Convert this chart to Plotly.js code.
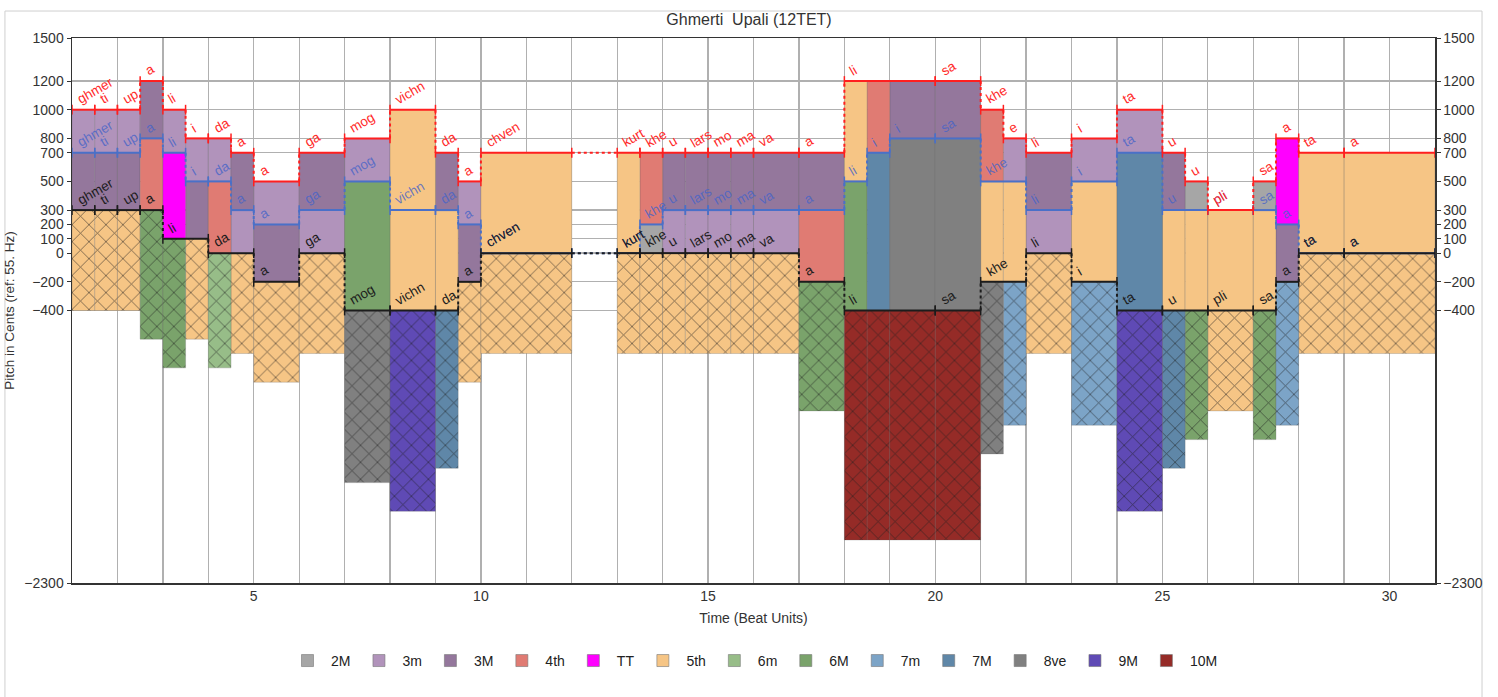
<!DOCTYPE html>
<html><head><meta charset="utf-8">
<script src="https://cdn.plot.ly/plotly-3.0.1.min.js"></script>
<style>html,body{margin:0;padding:0;background:#fff;} #chart{width:1498px;height:697px;}</style>
</head><body><div id="chart"></div>
<script>
// ---- data ----
const sliceStart = [1,1.5,2,2.5,3,3.5,4,4.5,5,6,7,8,9,9.5,10,13,13.5,14,14.5,15,15.5,16,17,18,18.5,19,20,21,21.5,22,23,24,25,25.5,26,27,27.5,28,29];
const sliceEnd   = [1.5,2,2.5,3,3.5,4,4.5,5,6,7,8,9,9.5,10,12,13.5,14,14.5,15,15.5,16,17,18,18.5,19,20,21,21.5,22,23,24,25,25.5,26,27,27.5,28,29,31];
const topPitch = [1000,1000,1000,1200,1000,800,800,700,500,700,800,1000,700,500,700,700,700,700,700,700,700,700,700,1200,1200,1200,1200,1000,800,700,800,1000,700,500,300,500,800,700,700];
const midPitch = [700,700,700,800,700,500,500,300,200,300,500,300,300,200,0,0,200,300,300,300,300,300,300,500,700,800,800,500,500,300,500,700,300,300,300,300,200,0,0];
const botPitch = [300,300,300,300,100,100,0,0,-200,0,-400,-400,-400,-200,0,0,0,0,0,0,0,0,-200,-400,-400,-400,-400,-200,-200,0,-200,-400,-400,-400,-400,-400,-200,0,0];
const topLyric = ["ghmer","ti","up","a","li","i","da","a","a","ga","mog","vichn","da","a","chven","kurt","khe","u","lars","mo","ma","va","a","li","","","sa","khe","e","li","i","ta","u","u","pli","sa","a","ta","a"];
const midLyric = ["ghmer","ti","up","a","li","i","da","a","a","ga","mog","vichn","da","a","chven","kurt","khe","u","lars","mo","ma","va","a","li","i","i","sa","khe","","li","i","ta","u","","pli","sa","a","ta","a"];
const botLyric = ["ghmer","ti","up","a","li","","da","","a","ga","mog","vichn","da","a","chven","kurt","khe","u","lars","mo","ma","va","a","li","","","sa","khe","","li","i","ta","u","","pli","sa","a","ta","a"];

const intervalNames = ["2M","3m","3M","4th","TT","5th","6m","6M","7m","7M","8ve","9M","10M"];
const intervalCents = [200,300,400,500,600,700,800,900,1000,1100,1200,1400,1600];
const intervalColors = ["#a6a6a6","#b193bb","#94779c","#e07b73","#ff00ff","#f6c585","#97bd88","#7aa36b","#7ca4c7","#5f87a8","#808080","#5f4ab5","#952b27"];

const yTickVals = [1500,1200,1000,800,700,500,300,200,100,0,-200,-400,-2300];
const xTickVals = Array.from({length:31},(_,i)=>i+1);
const xTickText = xTickVals.map(v => v%5===0 ? String(v) : "");

const FONT = "Liberation Sans, Arial, Helvetica, sans-serif";

// ---- bars ----
function emptyGroup(){ return {x:[],y:[],base:[],width:[]}; }
const solid = intervalNames.map(emptyGroup);
const hatch = intervalNames.map(emptyGroup);
function addBar(g, s, e, lo, hi){
  g.x.push((s+e)/2); g.width.push(e-s); g.base.push(lo); g.y.push(hi-lo);
}
for(let i=0;i<sliceStart.length;i++){
  const s=sliceStart[i], e=sliceEnd[i], t=topPitch[i], m=midPitch[i], b=botPitch[i];
  const k1 = intervalCents.indexOf(t-m);
  if(k1>=0) addBar(solid[k1], s, e, m, t);
  const k2 = intervalCents.indexOf(m-b);
  if(k2>=0) addBar(solid[k2], s, e, b, m);
  const k3 = intervalCents.indexOf(t-b);
  if(k3>=0) addBar(hatch[k3], s, e, b-(t-b), b);
}
const traces = [];
const barLine = {color:"rgba(90,90,90,0.35)", width:0.7};
// legend entries (one per interval class)
intervalNames.forEach((nm,k)=>{
  traces.push({type:"bar", name:nm, legendgroup:nm, showlegend:true, hoverinfo:"skip", x:[null], y:[null],
    marker:{color:intervalColors[k], line:{color:"rgba(120,120,120,0.6)", width:1}}});
});
intervalNames.forEach((nm,k)=>{
  if(solid[k].x.length) traces.push(Object.assign({type:"bar", name:nm, legendgroup:nm, showlegend:false, hoverinfo:"skip",
    marker:{color:intervalColors[k], line:barLine}}, solid[k]));
});
intervalNames.forEach((nm,k)=>{
  if(hatch[k].x.length) traces.push(Object.assign({type:"bar", name:nm, legendgroup:nm, showlegend:false, hoverinfo:"skip",
    marker:{color:intervalColors[k], line:barLine,
      pattern:{shape:"x", fillmode:"overlay", fgcolor:"#1e1e1e", fgopacity:0.7, size:12, solidity:0.12}}}, hatch[k]));
});

// ---- voices ----
function notes(pitch, lyric){
  const out=[];
  for(let i=0;i<sliceStart.length;i++){
    if(lyric[i]!=="" || out.length===0) out.push({s:sliceStart[i], e:sliceEnd[i], p:pitch[i], t:lyric[i]});
    else out[out.length-1].e = sliceEnd[i];
  }
  return out;
}
const voices = [
  {n:notes(midPitch, midLyric), color:"#4a70c8", label:"rgba(70,100,200,0.8)"},
  {n:notes(botPitch, botLyric), color:"#1c1c1c", label:"#1c1c1c"},
  {n:notes(topPitch, topLyric), color:"#ff1f1f", label:"#ff2a2a"}
];
const annotations = [];
voices.forEach(v=>{
  const lx=[], ly=[], cx=[], cy=[];
  v.n.forEach((n,j)=>{
    lx.push(n.s,n.e,null); ly.push(n.p,n.p,null);
    const nx = v.n[j+1];
    if(nx && (nx.p!==n.p || nx.s>n.e)){ cx.push(n.e,nx.s,null); cy.push(n.p,nx.p,null); }
    annotations.push({x:n.s, y:n.p, xref:"x", yref:"y", text:n.t, showarrow:false, textangle:-30,
      xanchor:"left", yanchor:"bottom", xshift:0, yshift:0, font:{family:FONT, size:13.5, color:v.label}});
  });
  traces.push({type:"scatter", mode:"lines", x:cx, y:cy, hoverinfo:"skip", showlegend:false,
    line:{color:v.color, width:2, dash:"dot"}});
  traces.push({type:"scatter", mode:"lines+markers", x:lx, y:ly, hoverinfo:"skip", showlegend:false,
    line:{color:v.color, width:2}, marker:{symbol:"line-ns", size:7, line:{color:v.color, width:1.5}}});
});
// right-hand axis carrier
traces.push({type:"scatter", x:[null], y:[null], yaxis:"y2", showlegend:false, hoverinfo:"skip"});

const axisCommon = {showline:true, linecolor:"#333", linewidth:1.5, zeroline:false,
  tickfont:{family:FONT, size:14, color:"#333"}};
const layout = {
  width:1498, height:697,
  margin:{l:72, r:63, t:38, b:114},
  paper_bgcolor:"#fff", plot_bgcolor:"#fff",
  barmode:"overlay", bargap:0,
  font:{family:FONT, color:"#333"},
  title:{text:"Ghmerti  Upali (12TET)", x:0.5, xanchor:"center", y:0.972, yanchor:"middle",
    font:{family:FONT, size:16, color:"#333"}},
  xaxis:Object.assign({}, axisCommon, {range:[1,31], tickvals:xTickVals, ticktext:xTickText, mirror:true,
    showgrid:true, gridcolor:"#b0b0b0", gridwidth:1.3, ticks:"",
    title:{text:"Time (Beat Units)", standoff:10, font:{family:FONT, size:14, color:"#333"}}}),
  yaxis:Object.assign({}, axisCommon, {range:[-2300,1500], tickvals:yTickVals, mirror:true,
    showgrid:true, gridcolor:"#b0b0b0", gridwidth:1.3, ticks:"outside", ticklen:4, tickcolor:"#333",
    title:{text:"Pitch in Cents (ref: 55. Hz)", standoff:6, font:{family:FONT, size:13.5, color:"#333"}}}),
  yaxis2:Object.assign({}, axisCommon, {range:[-2300,1500], tickvals:yTickVals, overlaying:"y", side:"right",
    showgrid:false, ticks:"outside", ticklen:4, tickcolor:"#333"}),
  legend:{orientation:"h", x:0.5, xanchor:"center", y:-0.143, yanchor:"middle",
    font:{family:FONT, size:14, color:"#222"}, itemwidth:37, traceorder:"normal"},
  shapes:[{type:"rect", xref:"paper", yref:"paper", x0:-0.0492, x1:1.0345, y0:-0.4, y1:1.0495,
    line:{color:"#cfcfcf", width:1}, fillcolor:"rgba(0,0,0,0)", layer:"below"}],
  annotations:annotations
};
Plotly.newPlot("chart", traces, layout, {staticPlot:true});
</script></body></html>
